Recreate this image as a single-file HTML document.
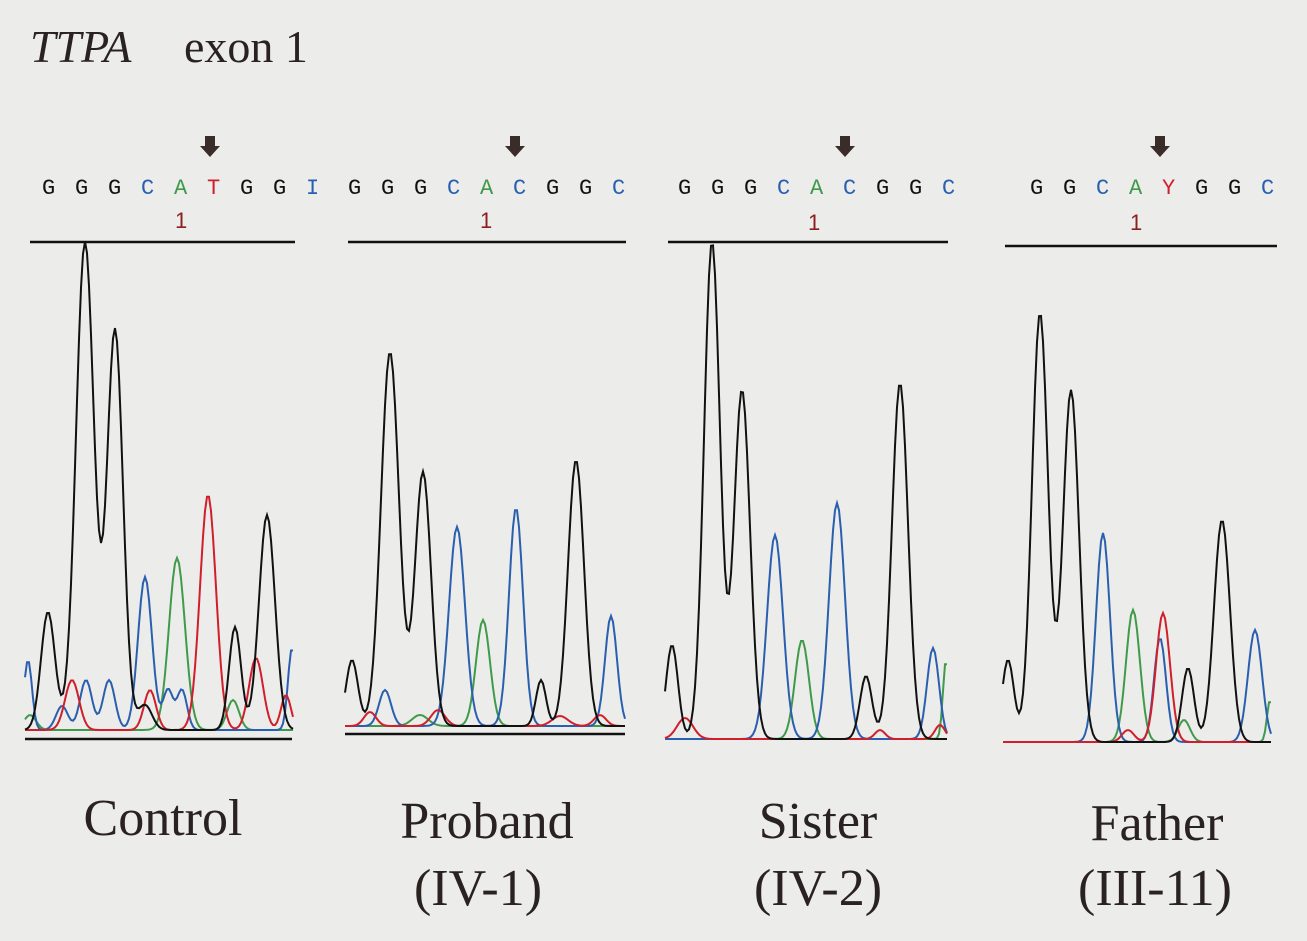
<!DOCTYPE html>
<html><head><meta charset="utf-8"><style>
html,body{margin:0;padding:0;background:#ececea;}
svg{display:block}
text{font-family:"Liberation Serif",serif;fill:#2a2220}
.s{font-family:"Liberation Mono",monospace;font-size:22px;}
</style></head><body>
<svg id="c" width="1307" height="941" xmlns="http://www.w3.org/2000/svg">
<rect width="1307" height="941" fill="#ececea"/>
<text x="30" y="62" font-size="46" font-style="italic">TTPA</text>
<text x="184" y="62" font-size="46">exon 1</text>
<g stroke="#111" stroke-width="2.5">
<line x1="30" y1="242" x2="295" y2="242"/><line x1="25" y1="739" x2="292" y2="739"/>
<line x1="348" y1="242" x2="626" y2="242"/><line x1="345" y1="734" x2="625" y2="734"/>
<line x1="668" y1="242" x2="948" y2="242"/>
<line x1="1005" y1="246" x2="1277" y2="246"/>
</g>
<g fill="#3a2c28">
<path d="M205 136h10v10h5l-10 11l-10-11h5z"/>
<path d="M510 136h10v10h5l-10 11l-10-11h5z"/>
<path d="M840 136h10v10h5l-10 11l-10-11h5z"/>
<path d="M1155 136h10v10h5l-10 11l-10-11h5z"/>
</g>
<g class="s" id="seq"></g>
<text x="175" y="228" font-size="22" style="fill:#8a2020;font-family:'Liberation Sans',sans-serif">1</text>
<text x="480" y="228" font-size="22" style="fill:#8a2020;font-family:'Liberation Sans',sans-serif">1</text>
<text x="808" y="230" font-size="22" style="fill:#8a2020;font-family:'Liberation Sans',sans-serif">1</text>
<text x="1130" y="230" font-size="22" style="fill:#8a2020;font-family:'Liberation Sans',sans-serif">1</text>
<g id="tr" fill="none" stroke-width="2"></g>
<g font-size="52" text-anchor="middle">
<text x="163" y="835">Control</text>
<text x="487" y="838">Proband</text><text x="478" y="905">(IV-1)</text>
<text x="818" y="838">Sister</text><text x="818" y="905">(IV-2)</text>
<text x="1157" y="840">Father</text><text x="1155" y="905">(III-11)</text>
</g>
</svg>
<script>
var col={G:"#111",C:"#2a5fb0",A:"#3f9a4a",T:"#d01f2a",Y:"#d01f2a",I:"#2a5fb0",K:"#111",B:"#2a5fb0",N:"#3f9a4a",R:"#d01f2a"};
var seqs=[[42,33,"GGGCATGGI"],[348,33,"GGGCACGGC"],[678,33,"GGGCACGGC"],[1030,33,"GGCAYGGC"]];
var sg=document.getElementById("seq"),h="";
seqs.forEach(function(s){for(var i=0;i<s[2].length;i++){h+='<text class="s" x="'+(s[0]+i*s[1])+'" y="194" style="fill:'+col[s[2][i]]+'">'+s[2][i]+'</text>';}});
sg.innerHTML=h;
var panels=[
{x0:25,x1:293,base:730,tr:{
K:[[48,612,7],[85,242,9],[115,330,8],[145,705,7],[235,627,6],[267,515,8]],
B:[[28,660,4],[62,706,6],[86,680,6],[109,680,6],[145,577,7],[168,690,5],[182,690,5],[292,648,4]],
N:[[177,558,8],[233,700,6],[30,715,6]],
R:[[72,680,7],[150,690,6],[208,495,8],[256,658,7],[286,695,5]]}},
{x0:345,x1:625,base:726,tr:{
K:[[352,660,6],[390,352,9],[423,472,8],[541,680,5],[576,460,8]],
B:[[385,690,6],[457,527,8],[516,508,7],[611,616,6]],
N:[[483,620,7],[420,715,8]],
R:[[370,712,6],[438,710,7],[560,716,8],[600,715,6]]}},
{x0:665,x1:948,base:739,tr:{
K:[[672,645,6],[712,242,8],[742,390,8],[866,676,6],[900,383,8]],
B:[[775,535,8],[837,503,8],[933,648,6]],
N:[[802,640,7],[946,660,3]],
R:[[685,718,8],[880,730,5],[940,725,5]]}},
{x0:1003,x1:1272,base:742,tr:{
K:[[1008,660,6],[1040,313,8],[1071,390,8],[1188,668,6],[1222,520,8]],
B:[[1103,533,7],[1160,638,6],[1255,630,7]],
N:[[1133,610,7],[1184,720,6],[1270,700,3]],
R:[[1163,613,7],[1128,730,6]]}}];
var out="";
panels.forEach(function(p){
 ["N","B","R","K"].forEach(function(k){
  var pk=p.tr[k],d="";
  for(var x=p.x0;x<=p.x1;x+=2){var y=p.base;
   pk.forEach(function(q){var a=p.base-q[1];y-=a*Math.exp(-Math.pow(x-q[0],2)/(2*q[2]*q[2]));});
   d+=(d?"L":"M")+x+" "+y.toFixed(1);}
  out+='<path d="'+d+'" stroke="'+col[k]+'"/>';});
});
document.getElementById("tr").innerHTML=out;
</script>
</body></html>
